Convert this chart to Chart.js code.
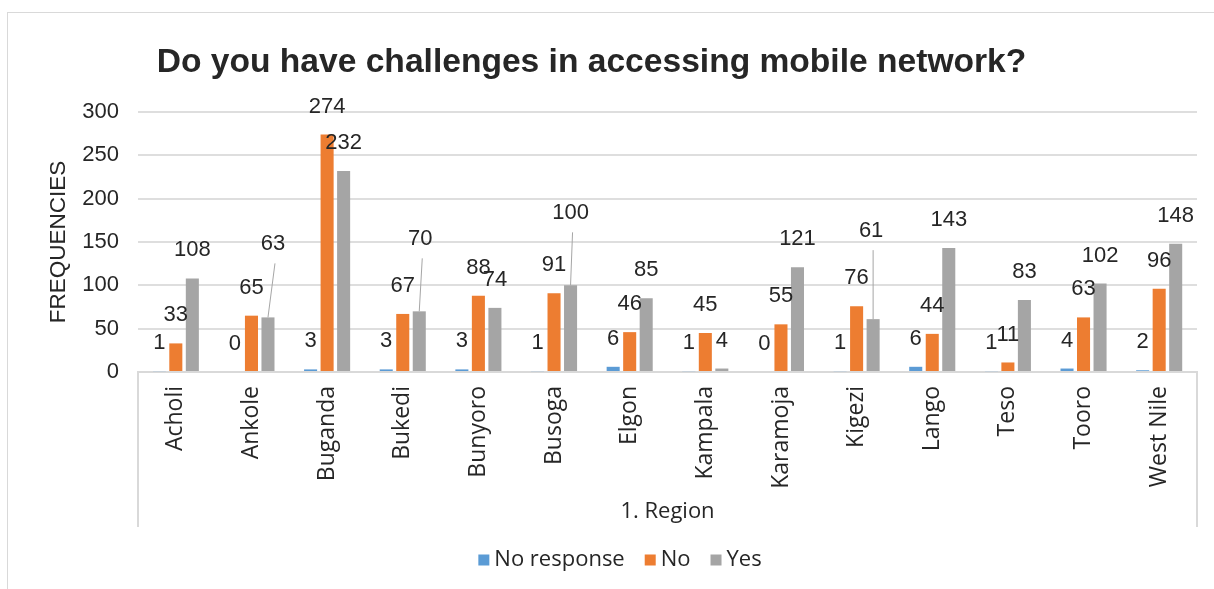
<!DOCTYPE html>
<html>
<head>
<meta charset="utf-8">
<script src="https://cdn.jsdelivr.net/npm/chart.js@4.4.1/dist/chart.umd.min.js"></script>
<style>
    html, body { margin: 0; padding: 0; background: #fff; }
</style>
</head>
<body>
<canvas id="myChart" width="1214" height="589"></canvas>
<script>
var regions = ['Acholi', 'Ankole', 'Buganda', 'Bukedi', 'Bunyoro', 'Busoga', 'Elgon',
    'Kampala', 'Karamoja', 'Kigezi', 'Lango', 'Teso', 'Tooro', 'West Nile'];
var noResponse = [1, 0, 3, 3, 3, 1, 6, 1, 0, 1, 6, 1, 4, 2];
var no = [33, 65, 274, 67, 88, 91, 46, 45, 55, 76, 44, 11, 63, 96];
var yes = [108, 63, 232, 70, 74, 100, 85, 4, 121, 61, 143, 83, 102, 148];
var yMin = 0, yMax = 300, yStep = 50;

// some "Yes" labels sit higher with a leader line down to the bar
var calloutLift = { 1: 45, 3: 44, 5: 44, 9: 60 };
var calloutShift = { 1: 5, 3: 1, 5: 0, 9: -2 };

var sans = '"Liberation Sans", Arial, sans-serif';
var open = '"Open Sans", "Noto Sans", sans-serif';

var frame = {
    id: 'frame',
    beforeDraw: function (chart) {
        var ctx = chart.ctx;
        var area = chart.chartArea;
        var xs = chart.scales.x;
        ctx.save();
        ctx.fillStyle = '#fff';
        ctx.fillRect(0, 0, chart.width, chart.height);
        ctx.strokeStyle = '#d9d9d9';
        ctx.lineWidth = 1;
        ctx.strokeRect(7.5, 12.5, chart.width + 20, chart.height + 20);
        ctx.lineWidth = 2;
        ctx.beginPath();
        ctx.moveTo(area.left, area.bottom);
        ctx.lineTo(area.left, xs.bottom);
        ctx.moveTo(area.right, area.bottom);
        ctx.lineTo(area.right, xs.bottom);
        ctx.stroke();
        ctx.restore();
    }
};

var valueLabels = {
    id: 'valueLabels',
    afterDatasetsDraw: function (chart) {
        var ctx = chart.ctx;
        ctx.save();
        ctx.font = '22px ' + sans;
        ctx.fillStyle = '#262626';
        ctx.textAlign = 'center';
        ctx.textBaseline = 'middle';
        chart.data.datasets.forEach(function (ds, i) {
            var meta = chart.getDatasetMeta(i);
            meta.data.forEach(function (bar, j) {
                var lift = 0, shift = 0;
                if (i === 2 && calloutLift[j]) {
                    lift = calloutLift[j];
                    shift = calloutShift[j];
                }
                var lx = bar.x + shift;
                var ly = bar.y - 28 - lift;
                if (lift) {
                    ctx.strokeStyle = '#a6a6a6';
                    ctx.lineWidth = 1;
                    ctx.beginPath();
                    ctx.moveTo(lx + 2, ly + 19);
                    ctx.lineTo(bar.x, bar.y);
                    ctx.stroke();
                }
                ctx.fillText(ds.data[j], lx, ly);
            });
        });
        ctx.restore();
    }
};

// legend row under the axis title, built from the datasets
var legendRow = {
    id: 'legendRow',
    afterDraw: function (chart) {
        var ctx = chart.ctx;
        var sets = chart.data.datasets;
        ctx.save();
        ctx.font = '22px ' + open;
        ctx.textBaseline = 'middle';
        ctx.textAlign = 'left';
        var widths = sets.map(function (d) { return ctx.measureText(d.label).width; });
        var total = 0;
        widths.forEach(function (w) { total += 11 + 5 + w; });
        total += 20 * (sets.length - 1);
        var x = 620 - total / 2;
        var y = 560;
        sets.forEach(function (d, i) {
            ctx.fillStyle = d.backgroundColor;
            ctx.fillRect(x, y - 5.5, 11, 11);
            ctx.fillStyle = '#262626';
            ctx.fillText(d.label, x + 16, y);
            x += 16 + widths[i] + 20;
        });
        ctx.restore();
    }
};

Chart.defaults.font.family = sans;
Chart.defaults.color = '#404040';

var ctx = document.getElementById('myChart');
var chart = new Chart(ctx, {
    type: 'bar',
    data: {
        labels: regions,
        datasets: [
            { label: 'No response', data: noResponse, backgroundColor: '#5b9bd5', borderWidth: 0 },
            { label: 'No', data: no, backgroundColor: '#ed7d31', borderWidth: 0 },
            { label: 'Yes', data: yes, backgroundColor: '#a5a5a5', borderWidth: 0 }
        ]
    },
    options: {
        responsive: false,
        animation: false,
        datasets: { bar: { categoryPercentage: 0.655, barPercentage: 0.79 } },
        layout: { padding: { left: -14, right: 17, top: 0, bottom: 62 } },
        scales: {
            x: {
                grid: { display: false },
                border: { display: true, color: '#d9d9d9', width: 2 },
                ticks: {
                    maxRotation: 90,
                    minRotation: 90,
                    padding: 6,
                    color: '#262626',
                    font: { family: open, size: 23 }
                },
                title: {
                    display: true,
                    text: '1. Region',
                    color: '#262626',
                    font: { family: open, size: 22 },
                    padding: { top: 0, bottom: 2 }
                },
                afterFit: function (scale) { scale.height = 155; }
            },
            y: {
                min: yMin,
                max: yMax,
                grid: { color: '#dedede', lineWidth: 2, drawTicks: false },
                border: { display: false },
                ticks: {
                    stepSize: yStep,
                    padding: 19,
                    color: '#262626',
                    font: { size: 22 }
                },
                title: {
                    display: true,
                    text: 'FREQUENCIES',
                    color: '#262626',
                    font: { size: 22.5 },
                    padding: { top: 59, bottom: 0 }
                },
                afterFit: function (scale) { scale.width = 152; }
            }
        },
        plugins: {
            title: {
                display: true,
                text: 'Do you have challenges in accessing mobile network?',
                color: '#262626',
                font: { size: 33.6, weight: 'bold' },
                padding: { top: 43, bottom: 28.7 }
            },
            legend: { display: false },
            tooltip: { enabled: false }
        }
    },
    plugins: [frame, valueLabels, legendRow]
});
</script>
</body>
</html>
